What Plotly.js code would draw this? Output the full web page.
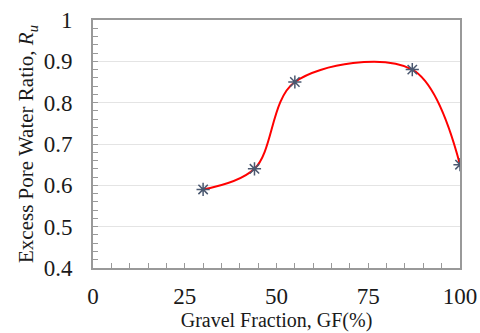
<!DOCTYPE html>
<html><head><meta charset="utf-8">
<script src="https://cdn.plot.ly/plotly-3.0.1.min.js"></script>
<style>html,body{margin:0;padding:0;background:#fff}#c{width:480px;height:333px}</style>
</head><body><div id="c"></div>
<script>
const gravelFraction = [30, 44, 55, 87, 100];
const ruValues = [0.59, 0.64, 0.85, 0.88, 0.65];
const xTicks = [0, 25, 50, 75, 100];
const yTicks = [0.4, 0.5, 0.6, 0.7, 0.8, 0.9, 1];
const yTickText = ['0.4','0.5','0.6','0.7','0.8','0.9','1'];

const font = 'Liberation Serif, Times New Roman, serif';
const traces = [
  {x: gravelFraction, y: ruValues, mode: 'lines', line: {color: '#ff0000', width: 2, shape: 'spline', smoothing: 1.0}, hoverinfo: 'skip'},
  {x: gravelFraction, y: ruValues, mode: 'markers', marker: {symbol: 'asterisk-open', size: 11, color: '#4a5870', line: {color: '#4a5870', width: 1.5}}}
];
const layout = {
  width: 480, height: 333, showlegend: false,
  margin: {l: 93, r: 20, t: 20, b: 65},
  paper_bgcolor: '#fff', plot_bgcolor: '#fff',
  font: {family: font, color: '#1a1a1a'},
  xaxis: {range: [0, 100], tickvals: xTicks, ticks: 'inside', ticklen: 5, tickcolor: '#999',
    showgrid: false, zeroline: false, showline: true, linecolor: '#999', linewidth: 2, mirror: true,
    tickfont: {size: 23, family: font}, ticklabelstandoff: 6,
    minor: {dtick: 5, ticks: 'inside', ticklen: 5, tickcolor: '#999', showgrid: false},
    title: {text: 'Gravel Fraction, GF(%)', font: {size: 20, family: font}, standoff: 0}},
  yaxis: {range: [0.4, 1], tickvals: yTicks, ticktext: yTickText, ticks: 'inside', ticklen: 5, tickcolor: '#999',
    showgrid: true, gridcolor: '#e4e4e4', gridwidth: 1, zeroline: false, showline: true, linecolor: '#999', linewidth: 2, mirror: true,
    tickfont: {size: 23, family: font}, ticklabelstandoff: 14,
    minor: {dtick: 0.02, ticks: 'inside', ticklen: 5, tickcolor: '#999', showgrid: false},
    title: {text: 'Excess Pore Water Ratio, <i>R<sub>u</sub></i>', font: {size: 21, family: font}, standoff: 4}}
};
Plotly.newPlot('c', traces, layout, {displayModeBar: false, staticPlot: true});
</script></body></html>
